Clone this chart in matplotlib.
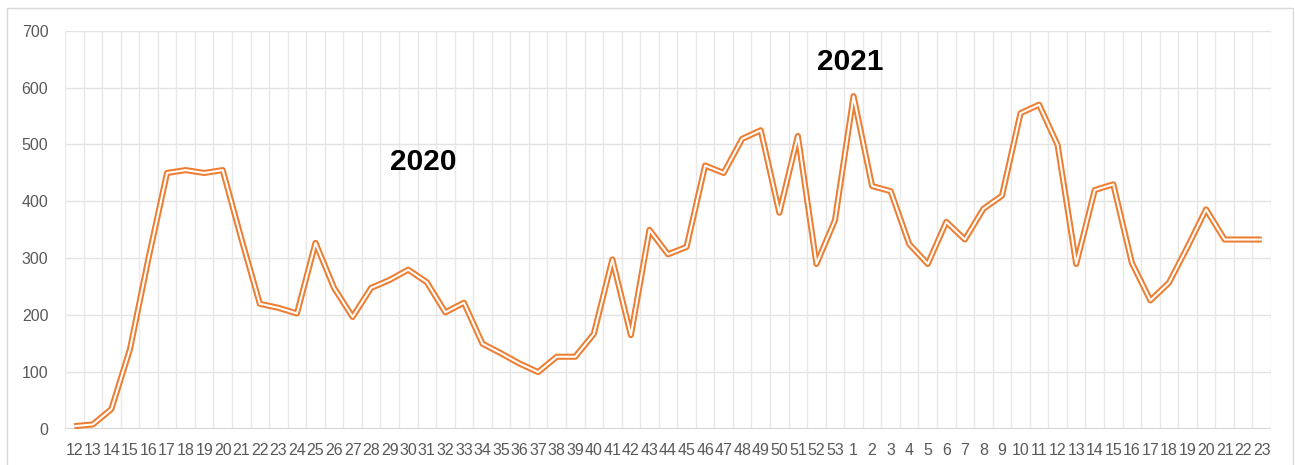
import matplotlib
matplotlib.use("Agg")
import matplotlib.pyplot as plt
from matplotlib.patches import Rectangle
import numpy as np

weeks_2020 = list(range(12, 54))
weeks_2021 = list(range(1, 24))
week_labels = [str(w) for w in weeks_2020 + weeks_2021]

values_2020 = [5, 8, 35, 140, 300, 450, 455, 450, 455, 335, 220, 213, 203, 327,
               248, 197, 248, 262, 280, 258, 205, 222, 150, 133, 115, 100, 127,
               127, 167, 298, 165, 350, 307, 320, 463, 450, 510, 525, 380, 515,
               290, 367]
values_2021 = [585, 427, 418, 325, 290, 364, 333, 387, 410, 555, 570, 499, 290,
               420, 430, 292, 226, 257, 320, 386, 333, 333, 333]
values = values_2020 + values_2021

y_ticks = [0, 100, 200, 300, 400, 500, 600, 700]
year_labels = ["2020", "2021"]

fig = plt.figure(figsize=(12.95, 4.65), dpi=100)
fig.patch.set_facecolor("white")
fig.patches.append(Rectangle((7 / 1295, -0.01), 1286 / 1295, 1 - 8 / 465 + 0.01,
                             transform=fig.transFigure, fill=False,
                             edgecolor="#d9d9d9", linewidth=1.0))

ax = fig.add_axes([65 / 1295, 1 - 429 / 465, 1206 / 1295, (429 - 30.7) / 465])
x = np.arange(len(values))
orange = "#ED7D31"
ax.plot(x, values, color=orange, linewidth=4.4, solid_joinstyle="round",
        solid_capstyle="butt", zorder=3)
ax.plot(x, values, color="white", linewidth=1.5, solid_joinstyle="round",
        solid_capstyle="butt", zorder=4)

ax.set_xlim(-0.5, len(values) - 0.5)
ax.set_ylim(0, 700)
ax.set_yticks(y_ticks)
ax.set_yticklabels([str(v) for v in y_ticks])
ax.set_xticks(x)
ax.set_xticklabels(week_labels)
ax.set_xticks(np.arange(-0.5, len(values), 1.0), minor=True)

ax.grid(False)
for v in y_ticks:
    ax.axhline(v, color="#e3e3e3", linewidth=1.0, zorder=1)
ax.grid(which="minor", axis="x", color="#e8e8e8", linewidth=1.0, zorder=1)
ax.axhline(0, color="#d0d0d0", linewidth=1.2, zorder=2)

for s in ax.spines.values():
    s.set_visible(False)

ax.tick_params(axis="both", which="both", length=0)
ax.tick_params(axis="x", which="major", pad=10, labelsize=11.5, colors="#595959")
ax.tick_params(axis="y", which="major", pad=12, labelsize=11.5, colors="#595959")
for lab in ax.get_xticklabels() + ax.get_yticklabels():
    lab.set_fontfamily("Liberation Sans")

ax.text(18.8, 470, year_labels[0], fontsize=21.5, fontweight="bold",
        family="Liberation Sans", ha="center", va="center", color="black")
ax.text(41.8, 645, year_labels[1], fontsize=21.5, fontweight="bold",
        family="Liberation Sans", ha="center", va="center", color="black")

fig.savefig("out.png", dpi=100, facecolor="white")
